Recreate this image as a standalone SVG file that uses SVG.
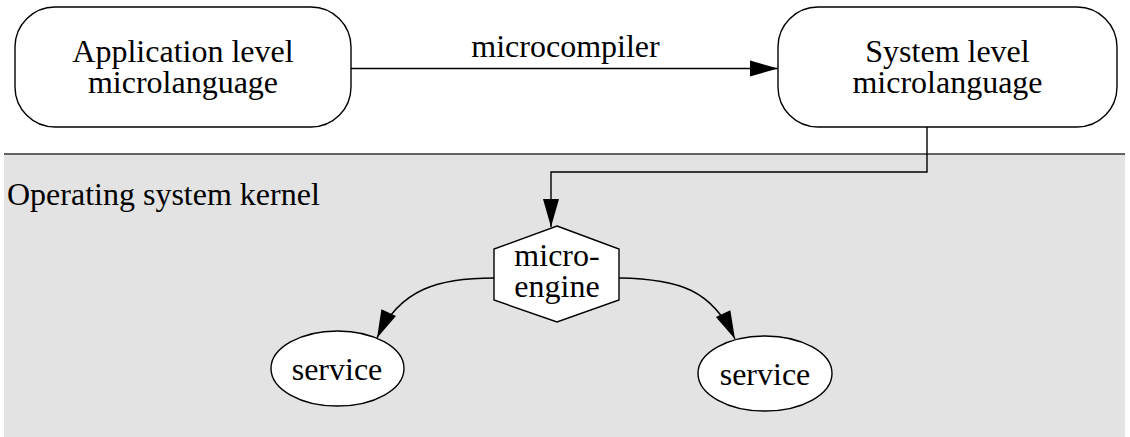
<svg xmlns="http://www.w3.org/2000/svg" width="1130" height="437" viewBox="0 0 1130 437">
<style>
  .node { fill: #ffffff; stroke: #000000; stroke-width: 1.4; }
  .lbl { font-family: "Liberation Serif", "Times New Roman", serif; font-size: 32px; fill: #000000; }
  .mid { text-anchor: middle; }
  .edge { fill: none; stroke: #000000; stroke-width: 1.4; marker-end: url(#arrow); }
</style>
<defs>
  <marker id="arrow" markerUnits="userSpaceOnUse" markerWidth="28" markerHeight="16" refX="28" refY="8" orient="auto" overflow="visible">
    <path d="M0,0 L28,8 L0,16 z" fill="#000000"/>
  </marker>
</defs>
<rect width="1130" height="437" fill="#ffffff"/>
<g id="kernel">
  <rect x="4" y="154" width="1121" height="283" fill="#e3e3e3"/>
  <line x1="4" y1="154" x2="1125" y2="154" stroke="#333333" stroke-width="1.6"/>
  <text class="lbl" x="7" y="205">Operating system kernel</text>
</g>
<g id="app-level">
  <rect class="node" x="15" y="7" width="336" height="120" rx="40" ry="40"/>
  <text class="lbl mid" x="183" y="62">Application level</text>
  <text class="lbl mid" x="183" y="93">microlanguage</text>
</g>
<g id="system-level">
  <rect class="node" x="778" y="7" width="339" height="120" rx="40" ry="40"/>
  <text class="lbl mid" x="947.5" y="62">System level</text>
  <text class="lbl mid" x="947.5" y="93">microlanguage</text>
</g>
<g id="micro-engine">
  <polygon class="node" points="557,226 619,249 619,300 557,322 494,300 494,249"/>
  <text class="lbl mid" x="557" y="266">micro-</text>
  <text class="lbl mid" x="557" y="297">engine</text>
</g>
<g id="service-left">
  <ellipse class="node" cx="337.5" cy="368.5" rx="66.5" ry="37.5"/>
  <text class="lbl mid" x="337" y="380">service</text>
</g>
<g id="service-right">
  <ellipse class="node" cx="765" cy="373.5" rx="67" ry="37.5"/>
  <text class="lbl mid" x="765" y="385">service</text>
</g>
<g id="connectors">
  <path class="edge" d="M351,68.5 H778"/>
  <text class="lbl mid" x="565.5" y="57">microcompiler</text>
  <path class="edge" d="M927,127 V172 H551 V227"/>
  <path class="edge" d="M494,278 C440,278 400,288 377,338"/>
  <path class="edge" d="M619,278 C680,279 712,290 735,339"/>
</g>
</svg>
